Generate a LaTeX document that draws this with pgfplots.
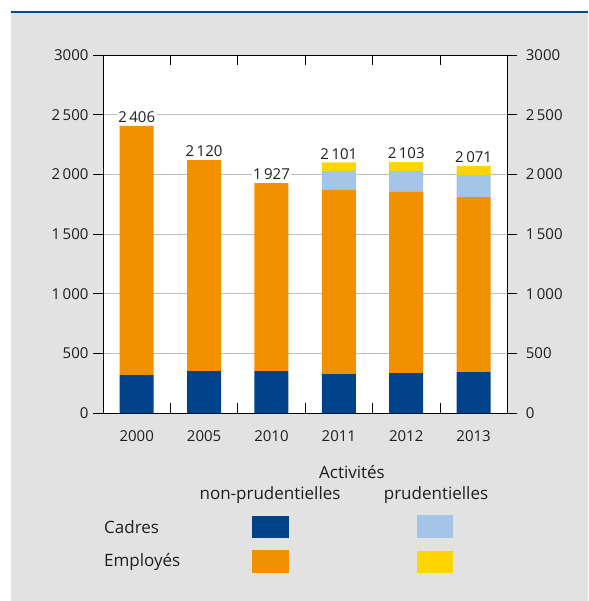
\documentclass[border=0pt]{standalone}
\usepackage{pgfplots}
\pgfplotsset{compat=1.18}
\usepackage{fontspec}
\setmainfont{Open Sans}
\definecolor{cadnp}{RGB}{0,67,138}
\definecolor{empnp}{RGB}{242,145,0}
\definecolor{cadp}{RGB}{164,197,232}
\definecolor{empp}{RGB}{255,213,0}
\definecolor{bggray}{RGB}{226,226,226}
\definecolor{topblue}{RGB}{0,75,145}
\definecolor{gridgray}{RGB}{190,190,190}
\definecolor{txt}{RGB}{30,30,30}
\tikzset{totlab/.style={anchor=south, fill=white, inner sep=1.5pt, yshift=1.5pt, text=txt, font=\fontsize{15}{18}\selectfont}}
\begin{document}
\begin{tikzpicture}[x=1pt,y=1pt]
\fill[white] (0,0) rectangle (588,601);
\fill[bggray] (11,0) rectangle (588,589);
\fill[topblue] (11,587.5) rectangle (588,590);
\useasboundingbox (0,0) rectangle (588,601);
\begin{axis}[
  at={(103pt,187.7pt)}, anchor=south west,
  width=404.3pt, height=358.3pt, scale only axis,
  xmin=-0.5, xmax=5.5, ymin=0, ymax=3000,
  axis background/.style={fill=white},
  ybar stacked, bar width=34pt,
  xtick={0,...,5}, xticklabels={2000,2005,2010,2011,2012,2013},
  minor xtick={0.5,1.5,2.5,3.5,4.5},
  major x tick style={draw=none},
  minor x tick style={black, line width=0.8pt},
  xtick align=inside,
  minor tick length=10pt, major tick length=10pt,
  ytick={0,500,...,3000}, ytick align=outside, ytick pos=left,
  yticklabels={0,500,1\,000,1\,500,2\,000,2\,500,3000},
  major y tick style={black, line width=0.8pt},
  ymajorgrids, grid style={gridgray, line width=0.8pt},
  axis line style={black, line width=0.8pt},
  tick label style={font=\fontsize{15}{18}\selectfont, text=txt},
  xticklabel style={yshift=-14pt},
  yticklabel style={xshift=-1pt},
]
\addplot[fill=cadnp, draw=none] coordinates {(0,320) (1,353) (2,353) (3,328) (4,337) (5,345)};
\addplot[fill=empnp, draw=none] coordinates {(0,2086) (1,1767) (2,1574) (3,1542) (4,1516) (5,1466)};
\addplot[fill=cadp, draw=none] coordinates {(0,0) (1,0) (2,0) (3,159) (4,176) (5,184)};
\addplot[fill=empp, draw=none] coordinates {(0,0) (1,0) (2,0) (3,72) (4,74) (5,76)};
\node[totlab] at (axis cs:0,2406) {2\,406};
\node[totlab] at (axis cs:1,2120) {2\,120};
\node[totlab] at (axis cs:2,1927) {1\,927};
\node[totlab] at (axis cs:3,2101) {2\,101};
\node[totlab] at (axis cs:4,2103) {2\,103};
\node[totlab] at (axis cs:5,2071) {2\,071};
\end{axis}
\begin{axis}[
  at={(103pt,187.7pt)}, anchor=south west,
  width=404.3pt, height=358.3pt, scale only axis,
  xmin=-0.5, xmax=5.5, ymin=0, ymax=3000,
  axis x line=none, axis y line*=right,
  ytick={0,500,...,3000}, ytick align=outside,
  yticklabels={0,500,1\,000,1\,500,2\,000,2\,500,3000},
  major tick length=10pt,
  major y tick style={black, line width=0.8pt},
  axis line style={black, line width=0.8pt},
  tick label style={font=\fontsize{15}{18}\selectfont, text=txt},
  yticklabel style={xshift=5pt},
]
\addplot[draw=none] coordinates {(0,0)};
\end{axis}
\node[text=txt, font=\fontsize{17}{20}\selectfont, inner sep=0pt] at (352,129) {Activités};
\node[text=txt, font=\fontsize{17}{20}\selectfont, inner sep=0pt] at (270,106) {non-prudentielles};
\node[text=txt, font=\fontsize{17}{20}\selectfont, inner sep=0pt] at (436,106) {prudentielles};
\node[text=txt, font=\fontsize{17}{20}\selectfont, inner sep=0pt, anchor=west] at (104,74) {Cadres};
\node[text=txt, font=\fontsize{17}{20}\selectfont, inner sep=0pt, anchor=west] at (104,39) {Employés};
\fill[cadnp] (252,63) rectangle (289,85);
\fill[empnp] (252,28) rectangle (289,51);
\fill[cadp] (417,63) rectangle (453,86);
\fill[empp] (417,28) rectangle (453,50);
\end{tikzpicture}
\end{document}
